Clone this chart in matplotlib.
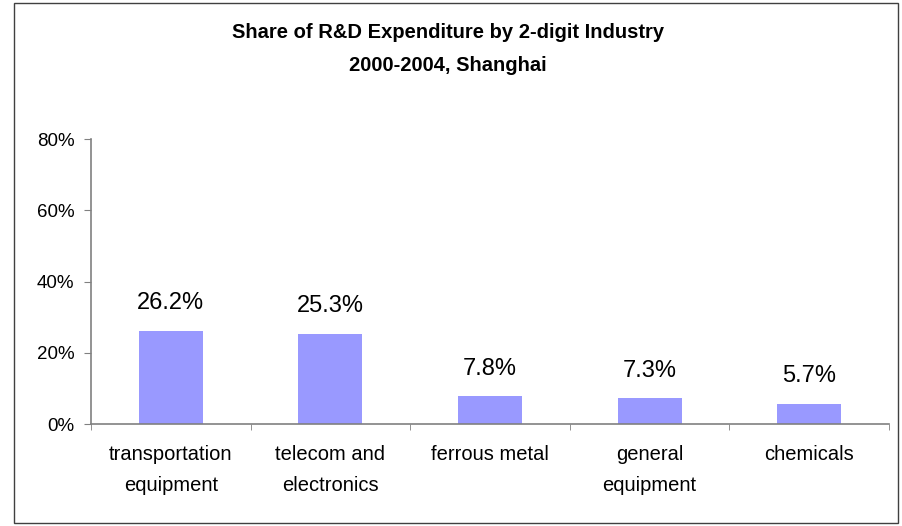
import numpy as np
import matplotlib.pyplot as plt
from matplotlib.patches import Rectangle

plt.rcParams['font.family'] = ['Liberation Sans', 'DejaVu Sans']

industries = ['transportation\nequipment', 'telecom and\nelectronics', 'ferrous metal',
              'general\nequipment', 'chemicals']
shares = [26.2, 25.3, 7.8, 7.3, 5.7]
yticks = [0, 20, 40, 60, 80]

fig = plt.figure(figsize=(9.03, 5.26), dpi=100)
fig.patch.set_facecolor('white')
ax = fig.add_axes([0.1008, 0.1939, 0.8837, 0.5418])

x = np.arange(len(shares))
ax.bar(x, shares, width=0.4, color='#9999FF', zorder=2)
for xi, v in zip(x, shares):
    ax.text(xi, v + 4.6, '%.1f%%' % v, ha='center', va='bottom', fontsize=17)

ax.set_xlim(-0.5, len(shares) - 0.5)
ax.set_ylim(0, 80)
ax.set_yticks(yticks)
ax.set_yticklabels(['%d%%' % t for t in yticks], fontsize=13.5)
ax.set_xticks(x)
ax.set_xticklabels(industries, fontsize=14.5, linespacing=1.8, va='top')
ax.set_xticks(np.arange(len(shares) + 1) - 0.5, minor=True)
ax.tick_params(axis='x', which='major', length=0, pad=15)
ax.tick_params(axis='x', which='minor', length=4, color='#808080', direction='out')
ax.tick_params(axis='y', length=5, color='#808080', direction='out', pad=7)

for side in ['top', 'right']:
    ax.spines[side].set_visible(False)
for side in ['left', 'bottom']:
    ax.spines[side].set_color('#808080')
    ax.spines[side].set_linewidth(1.2)

fig.text(0.496, 0.939, 'Share of R&D Expenditure by 2-digit Industry', ha='center',
         va='center', fontsize=14.5, fontweight='bold')
fig.text(0.496, 0.876, '2000-2004, Shanghai', ha='center', va='center',
         fontsize=14.5, fontweight='bold')

# outer frame around the chart area
fig.patches.append(Rectangle((14 / 903, 3 / 526), 884 / 903, 520 / 526,
                             transform=fig.transFigure, fill=False,
                             edgecolor='#404040', linewidth=1))

fig.savefig('out.png', dpi=100)
